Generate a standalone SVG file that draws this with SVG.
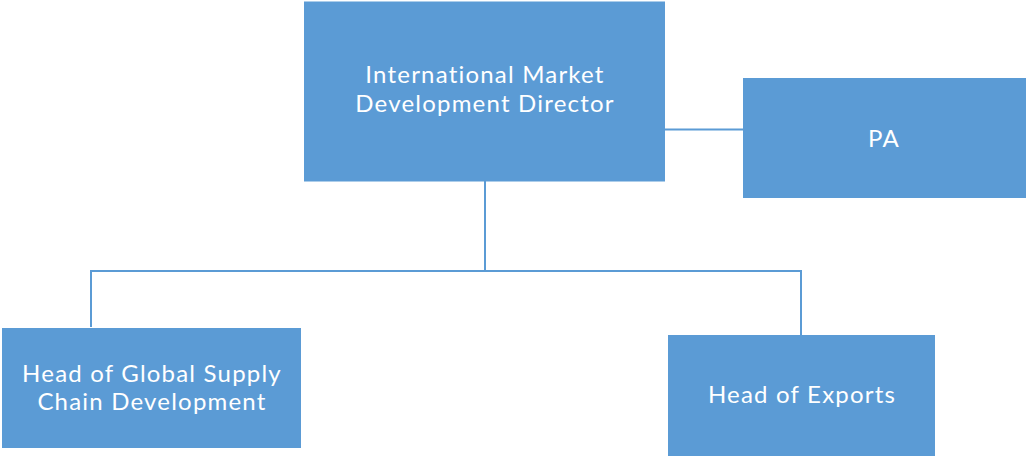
<svg xmlns="http://www.w3.org/2000/svg" width="1026" height="456" viewBox="0 0 1026 456">
<style>
.box{fill:#5B9BD5;}
.t{fill:#FFFFFF;font-family:Lato,"Open Sans","Liberation Sans",sans-serif;font-size:24px;letter-spacing:1.2px;text-anchor:middle;}
.c{fill:none;stroke:#5B9BD5;stroke-width:2;}
</style>
<rect width="1026" height="456" fill="#FFFFFF"/>
<g id="connectors">
<line class="c" x1="665" y1="129.5" x2="743" y2="129.5"/>
<line class="c" x1="485" y1="181" x2="485" y2="271"/>
<polyline class="c" points="91,327 91,271 801,271 801,335"/>
</g>
<g id="director">
<rect class="box" x="304" y="1.5" width="361" height="180"/>
<text class="t" x="485" y="83">International Market<tspan x="485" y="112">Development Director</tspan></text>
</g>
<g id="pa">
<rect class="box" x="743" y="78" width="283" height="120"/>
<text class="t" x="884" y="146.5">PA</text>
</g>
<g id="supply">
<rect class="box" x="2" y="328" width="299" height="120"/>
<text class="t" x="152" y="381.5">Head of Global Supply<tspan x="152" y="410">Chain Development</tspan></text>
</g>
<g id="exports">
<rect class="box" x="668" y="335" width="267" height="121"/>
<text class="t" x="802" y="403">Head of Exports</text>
</g>
</svg>
